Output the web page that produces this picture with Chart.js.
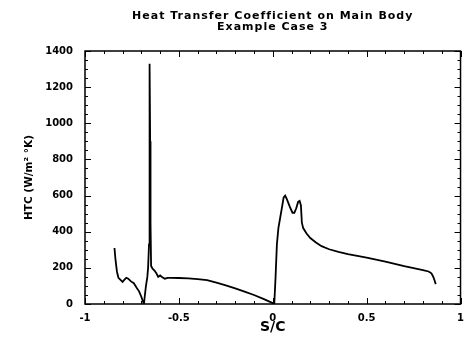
<!DOCTYPE html>
<html>
<head>
<meta charset="utf-8">
<script src="https://cdn.jsdelivr.net/npm/chart.js@4/dist/chart.umd.min.js"></script>
<style>
  html, body { margin: 0; padding: 0; background: #fff; }
  #wrap { width: 472px; height: 341px; position: relative; }
</style>
</head>
<body>
<div id="wrap"><canvas id="c"></canvas></div>
<script>
/* HTC distribution along the main body surface, case 3 */
const TITLE = ['Heat Transfer Coefficient on Main Body', 'Example Case 3'];
const X_LABEL = 'S/C';
const Y_LABEL = 'HTC (W/m\u00B2 \u00B0K)';

const S_C = [
  -0.843, -0.838, -0.830, -0.822, -0.812, -0.800, -0.790, -0.780, -0.770, -0.755,
  -0.740, -0.725, -0.712, -0.700, -0.692, -0.686, -0.682, -0.676, -0.668, -0.664,
  -0.659, -0.657, -0.655, -0.653, -0.651, -0.648, -0.640, -0.630, -0.620, -0.610,
  -0.600, -0.590, -0.575, -0.560, -0.540, -0.500, -0.450, -0.400, -0.350, -0.300,
  -0.250, -0.200, -0.150, -0.100, -0.050, 0.000, 0.008, 0.015, 0.022, 0.030,
  0.040, 0.050, 0.058, 0.066, 0.075, 0.090, 0.105, 0.115, 0.125, 0.135,
  0.143, 0.150, 0.155, 0.162, 0.180, 0.200, 0.230, 0.260, 0.300, 0.350,
  0.400, 0.450, 0.500, 0.550, 0.600, 0.650, 0.700, 0.750, 0.800, 0.830,
  0.845, 0.855, 0.862, 0.868
];
const HTC = [
  310, 250, 180, 145, 135, 122, 135, 145, 140, 125,
  115, 90, 70, 40, 15, 0, 40, 95, 150, 200,
  330, 900, 1330, 900, 450, 210, 195, 185, 170, 150,
  158, 150, 140, 145, 145, 144, 142, 138, 132, 118,
  103, 86, 69, 50, 28, 5, 0, 150, 330, 420,
  480, 540, 590, 600, 580, 540, 505, 505, 530, 565,
  570, 545, 450, 420, 390, 365, 340, 320, 303, 288,
  276, 266, 257, 246, 234, 222, 209, 198, 188, 180,
  170, 150, 130, 110
];

const X_TICKS = [-1, -0.5, 0, 0.5, 1];
const Y_TICKS = [0, 200, 400, 600, 800, 1000, 1200, 1400];
const X_MINOR_STEP = 0.1;
const Y_MINOR_STEP = 50;

const FONT = "'DejaVu Sans', Arial, sans-serif";

// two-line heading centred over the plot box
const heading = {
  id: 'heading',
  afterDraw(chart) {
    const { ctx, chartArea: a } = chart;
    const cx = (a.left + a.right) / 2;
    ctx.save();
    ctx.fillStyle = '#000';
    ctx.font = 'bold 11px ' + FONT;
    ctx.letterSpacing = '1px';
    ctx.textAlign = 'center';
    ctx.textBaseline = 'alphabetic';
    ctx.fillText(TITLE[0], cx, 19);
    ctx.fillText(TITLE[1], cx, 30);
    ctx.restore();
  }
};

// closed frame with inward ticks on all four sides
const frameTicks = {
  id: 'frameTicks',
  afterDraw(chart) {
    const { ctx, chartArea: a, scales: { x, y } } = chart;
    ctx.save();
    ctx.strokeStyle = '#000';
    ctx.lineWidth = 1.5;
    ctx.strokeRect(a.left, a.top, a.right - a.left, a.bottom - a.top);
    ctx.lineWidth = 1;
    ctx.beginPath();
    const xMin = X_TICKS[0], xMax = X_TICKS[X_TICKS.length - 1];
    for (let i = 0; xMin + i * X_MINOR_STEP <= xMax + 1e-9; i++) {
      const v = xMin + i * X_MINOR_STEP;
      const len = X_TICKS.some(t => Math.abs(t - v) < 1e-9) ? 6 : 3;
      const px = Math.round(x.getPixelForValue(v)) + 0.5;
      ctx.moveTo(px, a.bottom); ctx.lineTo(px, a.bottom - len);
      ctx.moveTo(px, a.top); ctx.lineTo(px, a.top + len);
    }
    const yMin = Y_TICKS[0], yMax = Y_TICKS[Y_TICKS.length - 1];
    for (let i = 0; yMin + i * Y_MINOR_STEP <= yMax; i++) {
      const v = yMin + i * Y_MINOR_STEP;
      const len = Y_TICKS.includes(v) ? 6 : 3;
      const py = Math.round(y.getPixelForValue(v)) + 0.5;
      ctx.moveTo(a.left, py); ctx.lineTo(a.left + len, py);
      ctx.moveTo(a.right, py); ctx.lineTo(a.right - len, py);
    }
    ctx.stroke();
    ctx.restore();
  }
};

new Chart(document.getElementById('c'), {
  type: 'scatter',
  data: {
    datasets: [{
      data: S_C.map((s, i) => ({ x: s, y: HTC[i] })),
      showLine: true,
      borderColor: '#000',
      borderWidth: 1.8,
      pointRadius: 0,
      tension: 0
    }]
  },
  options: {
    responsive: true,
    maintainAspectRatio: false,
    animation: false,
    events: [],
    layout: { padding: { left: 0, right: 4, top: 51, bottom: 0 } },
    plugins: {
      legend: { display: false },
      tooltip: { enabled: false },
      title: { display: false }
    },
    scales: {
      x: {
        type: 'linear',
        min: -1, max: 1,
        afterBuildTicks: s => { s.ticks = X_TICKS.map(v => ({ value: v })); },
        afterFit: s => { s.height = 37; },
        grid: { display: false, drawTicks: false },
        border: { display: false },
        ticks: {
          color: '#000', padding: 8, maxRotation: 0,
          font: { family: FONT, size: 10, weight: 'bold' },
          callback: v => String(v)
        },
        title: {
          display: true, text: X_LABEL, color: '#000',
          font: { family: FONT, size: 14, weight: 'bold', lineHeight: 1.0 },
          padding: { top: 0, bottom: 7 }
        }
      },
      y: {
        type: 'linear',
        min: 0, max: 1400,
        afterBuildTicks: s => { s.ticks = Y_TICKS.map(v => ({ value: v })); },
        afterFit: s => { s.width = 85; },
        grid: { display: false, drawTicks: false },
        border: { display: false },
        ticks: {
          color: '#000', padding: 12,
          font: { family: FONT, size: 10, weight: 'bold' },
          callback: v => String(v)
        },
        title: {
          display: true, text: Y_LABEL, color: '#000',
          font: { family: FONT, size: 10.5, weight: 'bold', lineHeight: 1.0 },
          padding: { top: 24, bottom: 0 }
        }
      }
    }
  },
  plugins: [frameTicks, heading]
});
</script>
</body>
</html>
